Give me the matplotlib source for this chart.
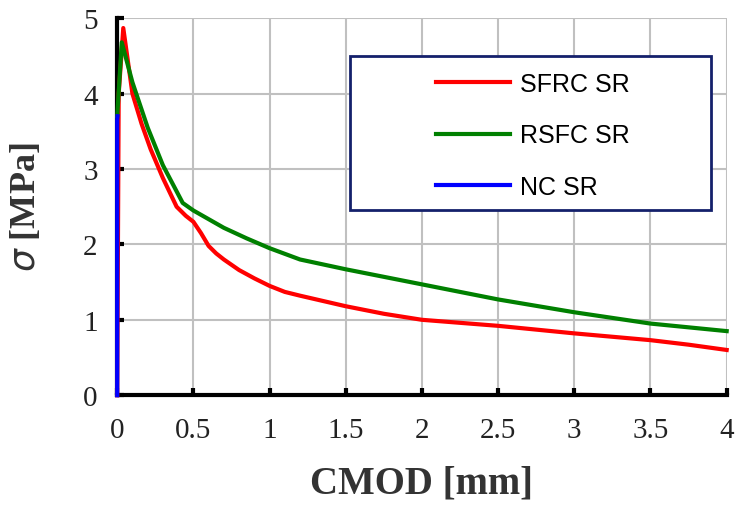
import numpy as np
import matplotlib.pyplot as plt
from matplotlib.patches import Rectangle

# SFRC SR
cmod_sfrc = [0.0, 0.01, 0.04, 0.1, 0.16, 0.22, 0.3, 0.39, 0.45, 0.5, 0.55, 0.6, 0.65, 0.7,
             0.8, 0.9, 1.0, 1.1, 1.2, 1.5, 1.75, 2.0, 2.5, 3.0, 3.5, 3.75, 4.0]
sigma_sfrc = [0.0, 4.0, 4.87, 4.0, 3.6, 3.26, 2.88, 2.5, 2.38, 2.3, 2.15, 1.98, 1.88, 1.8,
              1.66, 1.55, 1.45, 1.37, 1.32, 1.18, 1.08, 1.0, 0.92, 0.82, 0.73, 0.67, 0.6]

# RSFC SR
cmod_rsfc = [0.0, 0.03, 0.1, 0.2, 0.3, 0.43, 0.5, 0.7, 0.85, 1.0, 1.2, 1.5, 2.0, 2.5, 3.0,
             3.5, 4.0]
sigma_rsfc = [3.7, 4.68, 4.15, 3.55, 3.05, 2.55, 2.45, 2.22, 2.08, 1.95, 1.8, 1.67, 1.47,
              1.27, 1.1, 0.95, 0.85]

# NC SR
cmod_nc = [0.0, 0.0, 0.002]
sigma_nc = [0.0, 3.65, 3.7]

plt.rcParams["font.family"] = "Liberation Serif"

fig = plt.figure(figsize=(7.37, 5.06), dpi=100)
ax = fig.add_axes([0.159, 0.217, 0.827, 0.745])

ax.plot(cmod_sfrc, sigma_sfrc, color="#ff0000", lw=3, label="SFRC SR", zorder=4, clip_on=False)
ax.plot(cmod_rsfc, sigma_rsfc, color="#008000", lw=3, label="RSFC SR", zorder=4, clip_on=False)
ax.plot(cmod_nc, sigma_nc, color="#0000ff", lw=3, label="NC SR", zorder=4, clip_on=False)

ax.set_xlim(0, 4)
ax.set_ylim(0, 5)
ax.set_xticks(np.arange(0, 4.01, 0.5))
ax.set_xticklabels(["0", "0.5", "1", "1.5", "2", "2.5", "3", "3.5", "4"])
ax.set_yticks(range(6))
ax.grid(True, color="#c0c0c0", lw=1.5)
ax.set_axisbelow(True)
for s in ["top", "right"]:
    ax.spines[s].set_visible(False)
for s in ["left", "bottom"]:
    ax.spines[s].set_linewidth(3)
    ax.spines[s].set_zorder(3)
ax.tick_params(direction="in", length=5, width=3, labelsize=21, labelcolor="#222222")
ax.tick_params(axis="x", pad=16)
ax.tick_params(axis="y", pad=14)

ax.set_xlabel("CMOD [mm]", fontsize=28, fontweight="bold", labelpad=15, color="#333333")
ax.set_ylabel(r"$\sigma$ [MPa]", fontsize=26, fontweight="bold", labelpad=29, color="#333333")

ax.add_patch(Rectangle((0.382, 0.491), 0.592, 0.408, transform=ax.transAxes,
                       facecolor="white", edgecolor="#14206b", lw=2, zorder=5))
leg = ax.legend(loc="upper left", bbox_to_anchor=(0.523, 0.857), frameon=False,
                prop={"family": "Liberation Sans", "size": 18},
                handlelength=2.95, handletextpad=0.4, labelspacing=1.09,
                borderpad=0, borderaxespad=0)
leg.set_zorder(6)

plt.savefig("out.png")
